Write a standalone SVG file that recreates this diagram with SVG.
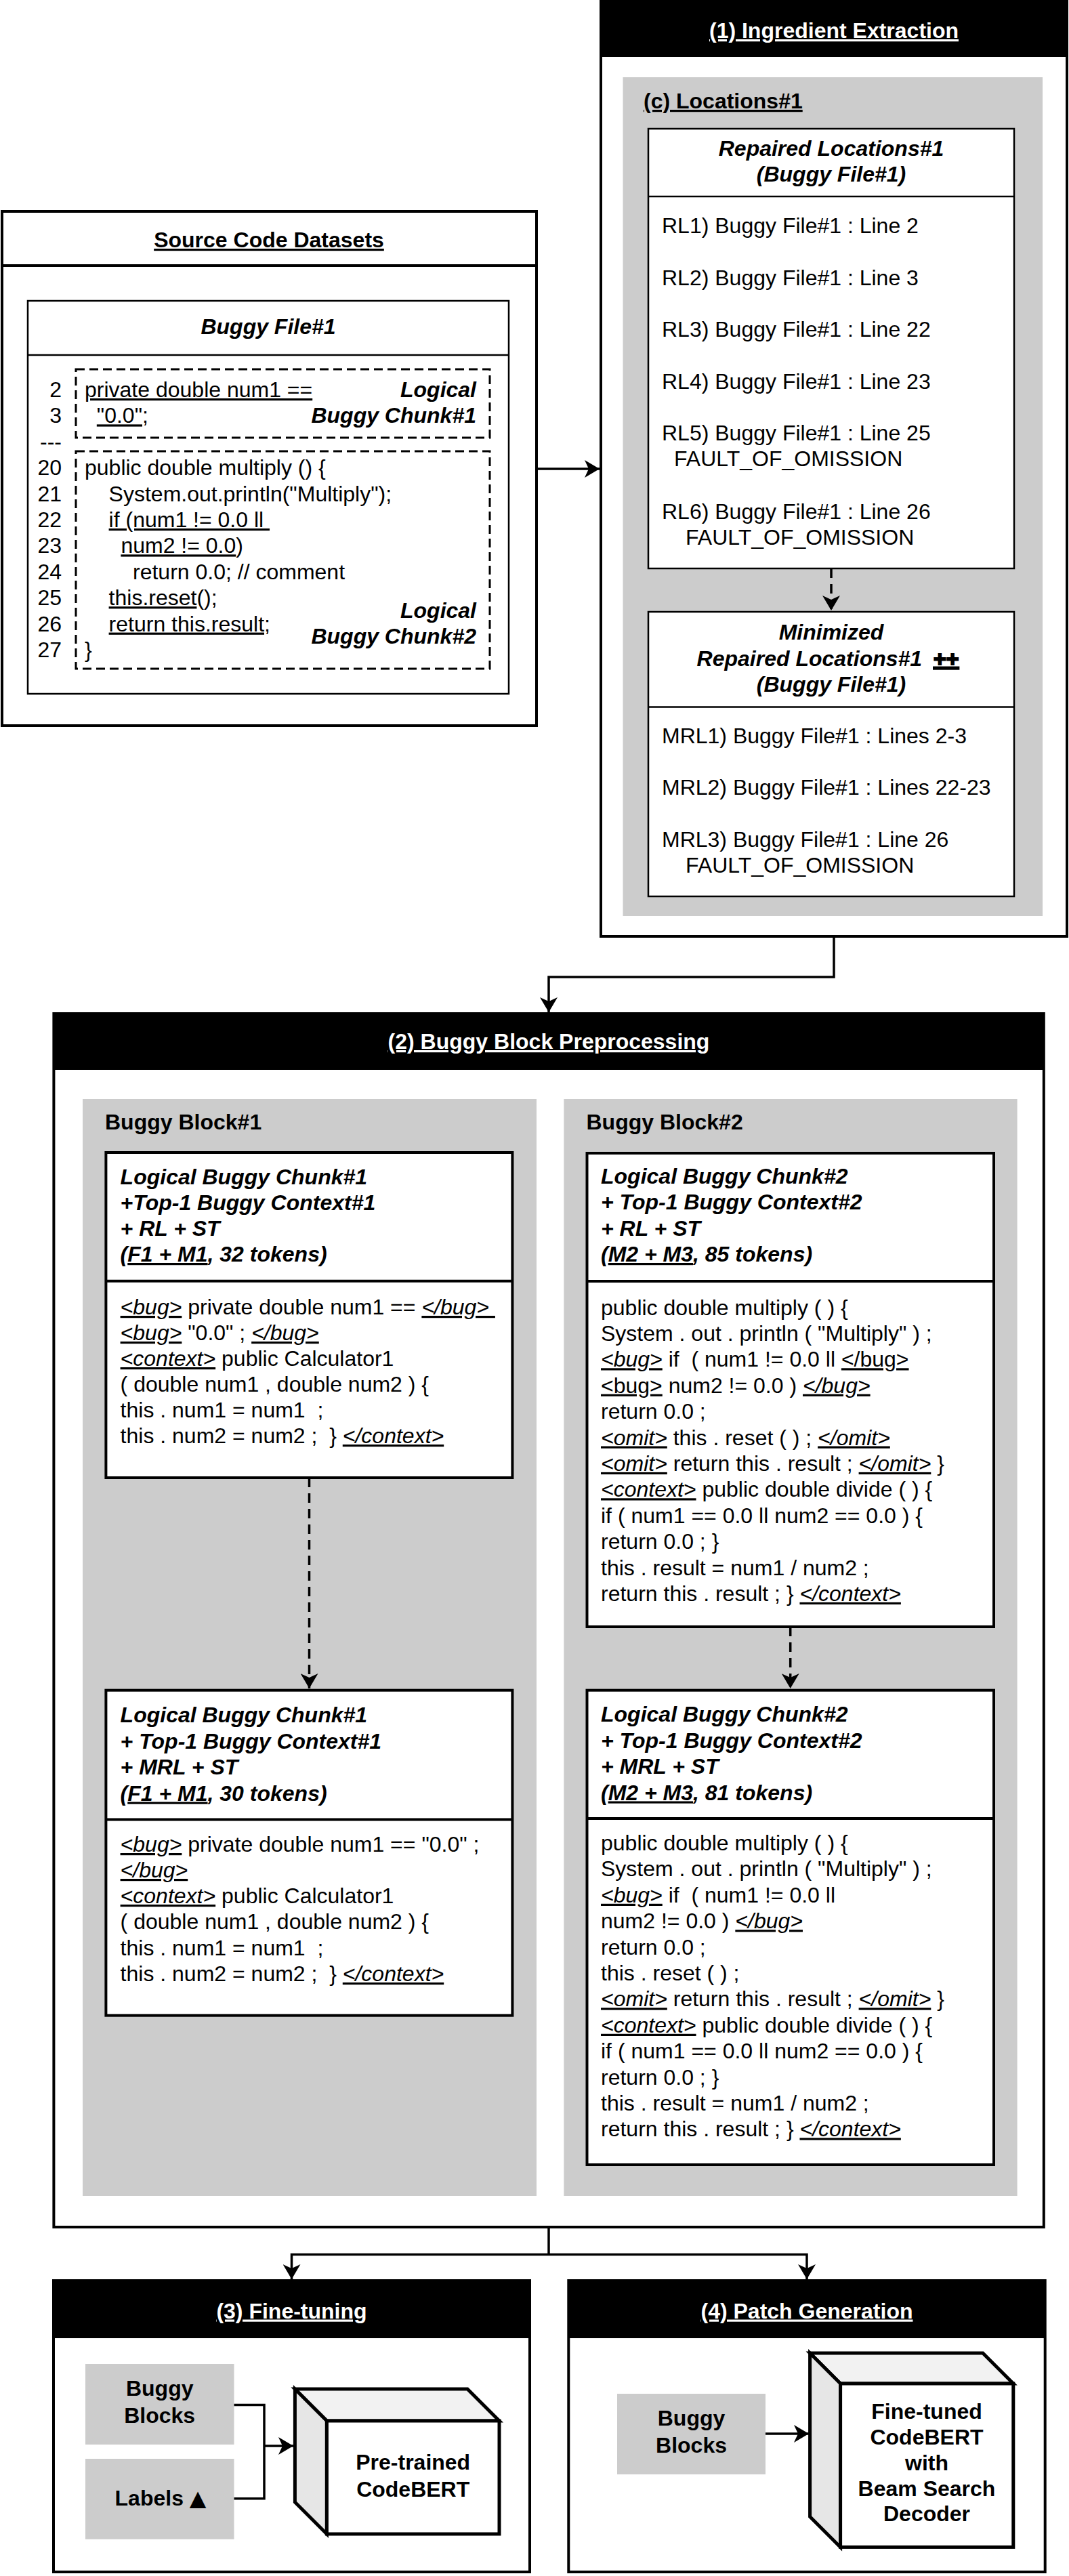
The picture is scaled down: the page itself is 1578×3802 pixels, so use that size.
<svg xmlns="http://www.w3.org/2000/svg" width="1578" height="3802" viewBox="0 0 1578 3802">
<style>
text { font-family: "Liberation Sans", Arial, Helvetica, sans-serif; font-size: 32px; fill: #000; }
.b { font-weight: bold; }
.bi { font-weight: bold; font-style: italic; }
.u { text-decoration: underline; }
.iu { font-style: italic; text-decoration: underline; }
.w { fill: #fff; }
.c { text-anchor: middle; }
.e { text-anchor: end; }
.box { fill: #fff; stroke: #000; stroke-width: 4; }
.thin { fill: #fff; stroke: #000; stroke-width: 2.5; }
.gray { fill: #cccccc; }
.hdr { fill: #000; }
.ln { fill: none; stroke: #000; stroke-width: 2.5; }
.ln4 { fill: none; stroke: #000; stroke-width: 4; }
.dash { fill: none; stroke: #000; stroke-width: 3; stroke-dasharray: 13 7; }
.conn { fill: none; stroke: #000; stroke-width: 3.5; }
.dconn { fill: none; stroke: #000; stroke-width: 3.5; stroke-dasharray: 14 9; }
.cube { stroke: #000; stroke-width: 5; stroke-linejoin: miter; }
.sym { font-family: "DejaVu Sans", "Liberation Sans", sans-serif; }
</style>
<defs>
<marker id="arr" markerWidth="24" markerHeight="26" refX="22" refY="13" orient="auto" markerUnits="userSpaceOnUse">
<path d="M0,0 L22,13 L0,26 L6,13 Z" fill="#000"/>
</marker>
</defs>

<g id="connectors">
<path class="conn" d="M792,692 H885" marker-end="url(#arr)"/>
<path class="conn" d="M1231,1382 V1442 H810 V1494" marker-end="url(#arr)"/>
<path class="conn" d="M810,3287 V3327.6"/>
<path class="conn" d="M810,3327.6 H430.5 V3364" marker-end="url(#arr)"/>
<path class="conn" d="M810,3327.6 H1191 V3364" marker-end="url(#arr)"/>
</g>

<g id="source-code-datasets">
<rect class="box" x="3" y="312" width="789" height="759"/>
<line class="ln4" x1="3" y1="392" x2="792" y2="392"/>
<text class="b u c" x="397" y="365">Source Code Datasets</text>
<rect class="thin" x="41" y="444" width="710" height="580"/>
<line class="ln" x1="41" y1="524" x2="751" y2="524"/>
<text class="bi c" x="396" y="493">Buggy File#1</text>
<rect class="dash" x="112" y="545" width="611" height="101"/>
<rect class="dash" x="112" y="666" width="611" height="321"/>
<text class="e" x="91" y="586">2</text>
<text class="e" x="91" y="624.4">3</text>
<text class="e" x="91" y="662.8">---</text>
<text class="e" x="91" y="701.2">20</text>
<text class="e" x="91" y="739.6">21</text>
<text class="e" x="91" y="778">22</text>
<text class="e" x="91" y="816.4">23</text>
<text class="e" x="91" y="854.8">24</text>
<text class="e" x="91" y="893.2">25</text>
<text class="e" x="91" y="931.6">26</text>
<text class="e" x="91" y="970">27</text>
<text x="125" y="586"><tspan class="u">private double num1 ==</tspan></text>
<text x="142.8" y="624.4"><tspan class="u">"0.0"</tspan>;</text>
<text x="125" y="701.2">public double multiply () {</text>
<text x="160.6" y="739.6">System.out.println("Multiply");</text>
<text x="160.6" y="778" xml:space="preserve"><tspan class="u">if (num1 != 0.0 ll </tspan></text>
<text x="178.4" y="816.4"><tspan class="u">num2 != 0.0</tspan>)</text>
<text x="196" y="854.8">return 0.0; // comment</text>
<text x="160.6" y="893.2"><tspan class="u">this.reset</tspan>();</text>
<text x="160.6" y="931.6"><tspan class="u">return this.result</tspan>;</text>
<text x="125" y="970">}</text>
<text class="bi e" x="703" y="586">Logical</text>
<text class="bi e" x="703" y="624.4">Buggy Chunk#1</text>
<text class="bi e" x="703" y="912">Logical</text>
<text class="bi e" x="703" y="950">Buggy Chunk#2</text>
</g>

<g id="ingredient-extraction">
<rect class="box" x="887" y="2" width="688" height="1380"/>
<rect class="hdr" x="887" y="2" width="688" height="82"/>
<text class="b u c w" x="1231" y="56">(1) Ingredient Extraction</text>
<rect class="gray" x="919.5" y="114" width="619.5" height="1238"/>
<text class="b u" x="950" y="160">(c) Locations#1</text>
</g>

<g id="repaired-locations">
<rect class="thin" x="957" y="190" width="540" height="649"/>
<line class="ln" x1="957" y1="290" x2="1497" y2="290"/>
<text class="bi c" x="1227" y="230">Repaired Locations#1</text>
<text class="bi c" x="1227" y="268">(Buggy File#1)</text>
<text x="977" y="344">RL1) Buggy File#1 : Line 2</text>
<text x="977" y="420.5">RL2) Buggy File#1 : Line 3</text>
<text x="977" y="497">RL3) Buggy File#1 : Line 22</text>
<text x="977" y="573.5">RL4) Buggy File#1 : Line 23</text>
<text x="977" y="650">RL5) Buggy File#1 : Line 25</text>
<text x="995" y="688">FAULT_OF_OMISSION</text>
<text x="977" y="766">RL6) Buggy File#1 : Line 26</text>
<text x="1012" y="804">FAULT_OF_OMISSION</text>
</g>

<g id="rl-to-mrl">
<path class="dconn" d="M1227,839 V901" marker-end="url(#arr)"/>
</g>

<g id="minimized-repaired-locations">
<rect class="thin" x="957" y="903" width="540" height="420"/>
<line class="ln" x1="957" y1="1043.6" x2="1497" y2="1043.6"/>
<text class="bi c" x="1227" y="944">Minimized</text>
<text class="bi" x="1028.6" y="982.5">Repaired Locations#1</text>
<text class="b u" x="1378" y="982.5" style="stroke:#000;stroke-width:2">++</text>
<text class="bi c" x="1227" y="1020.5">(Buggy File#1)</text>
<text x="977" y="1096.6">MRL1) Buggy File#1 : Lines 2-3</text>
<text x="977" y="1172.6">MRL2) Buggy File#1 : Lines 22-23</text>
<text x="977" y="1249.6">MRL3) Buggy File#1 : Line 26</text>
<text x="1012" y="1287.7">FAULT_OF_OMISSION</text>
</g>

<g id="buggy-block-preprocessing">
<rect class="box" x="79.4" y="1496" width="1461.4" height="1791"/>
<rect class="hdr" x="79.4" y="1496" width="1461.4" height="83"/>
<text class="b u c w" x="810" y="1548">(2) Buggy Block Preprocessing</text>
<rect class="gray" x="122" y="1622" width="670" height="1619"/>
<text class="b" x="155" y="1667">Buggy Block#1</text>
<rect class="gray" x="832.4" y="1622" width="669.2" height="1619"/>
<text class="b" x="865.5" y="1667">Buggy Block#2</text>
</g>

<g id="chunk1-rl">
<rect class="box" x="156.4" y="1701" width="600" height="480"/>
<line class="ln4" x1="156.4" y1="1890.7" x2="756.4" y2="1890.7"/>
<text class="bi" x="177.6" y="1748">Logical Buggy Chunk#1</text>
<text class="bi" x="177.6" y="1786">+Top-1 Buggy Context#1</text>
<text class="bi" x="177.6" y="1824">+ RL + ST</text>
<text class="bi" x="177.6" y="1862">(<tspan class="u">F1 + M1</tspan>, 32 tokens)</text>
<text x="177.6" y="1940" xml:space="preserve"><tspan class="iu">&lt;bug&gt;</tspan> private double num1 == <tspan class="iu">&lt;/bug&gt; </tspan></text>
<text x="177.6" y="1978" xml:space="preserve"><tspan class="iu">&lt;bug&gt;</tspan> "0.0" ; <tspan class="iu">&lt;/bug&gt;</tspan></text>
<text x="177.6" y="2016" xml:space="preserve"><tspan class="iu">&lt;context&gt;</tspan> public Calculator1</text>
<text x="177.6" y="2054" xml:space="preserve">( double num1 , double num2 ) {</text>
<text x="177.6" y="2092" xml:space="preserve">this . num1 = num1  ;</text>
<text x="177.6" y="2130" xml:space="preserve">this . num2 = num2 ;  } <tspan class="iu">&lt;/context&gt;</tspan></text>
</g>

<g id="chunk1-to-mrl">
<path class="dconn" d="M456.5,2181 V2492" marker-end="url(#arr)"/>
</g>

<g id="chunk1-mrl">
<rect class="box" x="156.4" y="2494.7" width="600" height="480"/>
<line class="ln4" x1="156.4" y1="2685.4" x2="756.4" y2="2685.4"/>
<text class="bi" x="177.6" y="2542.4">Logical Buggy Chunk#1</text>
<text class="bi" x="177.6" y="2581">+ Top-1 Buggy Context#1</text>
<text class="bi" x="177.6" y="2619.4">+ MRL + ST</text>
<text class="bi" x="177.6" y="2657.5">(<tspan class="u">F1 + M1</tspan>, 30 tokens)</text>
<text x="177.6" y="2733" xml:space="preserve"><tspan class="iu">&lt;bug&gt;</tspan> private double num1 == "0.0" ;</text>
<text x="177.6" y="2771" xml:space="preserve"><tspan class="iu">&lt;/bug&gt;</tspan></text>
<text x="177.6" y="2809" xml:space="preserve"><tspan class="iu">&lt;context&gt;</tspan> public Calculator1</text>
<text x="177.6" y="2847" xml:space="preserve">( double num1 , double num2 ) {</text>
<text x="177.6" y="2885.5" xml:space="preserve">this . num1 = num1  ;</text>
<text x="177.6" y="2924" xml:space="preserve">this . num2 = num2 ;  } <tspan class="iu">&lt;/context&gt;</tspan></text>
</g>

<g id="chunk2-rl">
<rect class="box" x="866.5" y="1702" width="600.5" height="699"/>
<line class="ln4" x1="866.5" y1="1891" x2="1467" y2="1891"/>
<text class="bi" x="887" y="1747">Logical Buggy Chunk#2</text>
<text class="bi" x="887" y="1785">+ Top-1 Buggy Context#2</text>
<text class="bi" x="887" y="1823.5">+ RL + ST</text>
<text class="bi" x="887" y="1862">(<tspan class="u">M2 + M3</tspan>, 85 tokens)</text>
<text x="887" y="1940.5" xml:space="preserve">public double multiply ( ) {</text>
<text x="887" y="1978.9" xml:space="preserve">System . out . println ( "Multiply" ) ;</text>
<text x="887" y="2017.3" xml:space="preserve"><tspan class="iu">&lt;bug&gt;</tspan> if  ( num1 != 0.0 ll <tspan class="u">&lt;/bug&gt;</tspan></text>
<text x="887" y="2055.7" xml:space="preserve"><tspan class="u">&lt;bug&gt;</tspan> num2 != 0.0 ) <tspan class="iu">&lt;/bug&gt;</tspan></text>
<text x="887" y="2094.1" xml:space="preserve">return 0.0 ;</text>
<text x="887" y="2132.5" xml:space="preserve"><tspan class="iu">&lt;omit&gt;</tspan> this . reset ( ) ; <tspan class="iu">&lt;/omit&gt;</tspan></text>
<text x="887" y="2170.9" xml:space="preserve"><tspan class="iu">&lt;omit&gt;</tspan> return this . result ; <tspan class="iu">&lt;/omit&gt;</tspan> }</text>
<text x="887" y="2209.3" xml:space="preserve"><tspan class="iu">&lt;context&gt;</tspan> public double divide ( ) {</text>
<text x="887" y="2247.7" xml:space="preserve">if ( num1 == 0.0 ll num2 == 0.0 ) {</text>
<text x="887" y="2286.1" xml:space="preserve">return 0.0 ; }</text>
<text x="887" y="2324.5" xml:space="preserve">this . result = num1 / num2 ;</text>
<text x="887" y="2362.9" xml:space="preserve">return this . result ; } <tspan class="iu">&lt;/context&gt;</tspan></text>
</g>

<g id="chunk2-to-mrl">
<path class="dconn" d="M1166.7,2401 V2492" marker-end="url(#arr)"/>
</g>

<g id="chunk2-mrl">
<rect class="box" x="866.5" y="2494.7" width="600.5" height="700.3"/>
<line class="ln4" x1="866.5" y1="2684" x2="1467" y2="2684"/>
<text class="bi" x="887" y="2541">Logical Buggy Chunk#2</text>
<text class="bi" x="887" y="2579.5">+ Top-1 Buggy Context#2</text>
<text class="bi" x="887" y="2618">+ MRL + ST</text>
<text class="bi" x="887" y="2656.5">(<tspan class="u">M2 + M3</tspan>, 81 tokens)</text>
<text x="887" y="2731" xml:space="preserve">public double multiply ( ) {</text>
<text x="887" y="2769.4" xml:space="preserve">System . out . println ( "Multiply" ) ;</text>
<text x="887" y="2807.8" xml:space="preserve"><tspan class="iu">&lt;bug&gt;</tspan> if  ( num1 != 0.0 ll</text>
<text x="887" y="2846.2" xml:space="preserve">num2 != 0.0 ) <tspan class="iu">&lt;/bug&gt;</tspan></text>
<text x="887" y="2884.6" xml:space="preserve">return 0.0 ;</text>
<text x="887" y="2923" xml:space="preserve">this . reset ( ) ;</text>
<text x="887" y="2961.4" xml:space="preserve"><tspan class="iu">&lt;omit&gt;</tspan> return this . result ; <tspan class="iu">&lt;/omit&gt;</tspan> }</text>
<text x="887" y="2999.8" xml:space="preserve"><tspan class="iu">&lt;context&gt;</tspan> public double divide ( ) {</text>
<text x="887" y="3038.2" xml:space="preserve">if ( num1 == 0.0 ll num2 == 0.0 ) {</text>
<text x="887" y="3076.6" xml:space="preserve">return 0.0 ; }</text>
<text x="887" y="3115" xml:space="preserve">this . result = num1 / num2 ;</text>
<text x="887" y="3153.4" xml:space="preserve">return this . result ; } <tspan class="iu">&lt;/context&gt;</tspan></text>
</g>

<g id="fine-tuning">
<rect class="box" x="79" y="3366" width="703" height="430"/>
<rect class="hdr" x="79" y="3366" width="703" height="85"/>
<text class="b u c w" x="430.5" y="3421.5">(3) Fine-tuning</text>
</g>

<g id="ft-buggy-blocks">
<rect class="gray" x="126" y="3489" width="219.5" height="119"/>
<text class="b c" x="235.7" y="3536">Buggy</text>
<text class="b c" x="235.7" y="3575.6">Blocks</text>
</g>

<g id="ft-labels">
<rect class="gray" x="126" y="3629" width="219.5" height="118.7"/>
<text class="b c" x="237" y="3697.8">Labels <tspan class="sym">▲</tspan></text>
</g>

<g id="ft-connectors">
<path class="conn" d="M345.5,3549.6 H390 V3687.8 H345.5"/>
<path class="conn" d="M390,3610 H433" marker-end="url(#arr)"/>
</g>

<g id="pretrained-codebert">
<polygon class="cube" fill="#f2f2f2" points="435.4,3526 690,3526 737,3573 482.4,3573"/>
<polygon class="cube" fill="#e6e6e6" points="435.4,3526 482.4,3573 482.4,3740 435.4,3693"/>
<rect class="cube" fill="#fff" x="482.4" y="3573" width="254.6" height="167"/>
<text class="b c" x="609.7" y="3644.5">Pre-trained</text>
<text class="b c" x="609.7" y="3684.5">CodeBERT</text>
</g>

<g id="patch-generation">
<rect class="box" x="839.3" y="3366" width="703.4" height="430"/>
<rect class="hdr" x="839.3" y="3366" width="703.4" height="85"/>
<text class="b u c w" x="1191" y="3421.5">(4) Patch Generation</text>
</g>

<g id="pg-buggy-blocks">
<rect class="gray" x="911" y="3533" width="219" height="119"/>
<text class="b c" x="1020.5" y="3579.6">Buggy</text>
<text class="b c" x="1020.5" y="3619.5">Blocks</text>
</g>

<g id="pg-connector">
<path class="conn" d="M1130,3592 H1194" marker-end="url(#arr)"/>
</g>

<g id="finetuned-codebert">
<polygon class="cube" fill="#f2f2f2" points="1195.6,3473 1450.8,3473 1495.8,3518 1240.6,3518"/>
<polygon class="cube" fill="#e6e6e6" points="1195.6,3473 1240.6,3518 1240.6,3759.4 1195.6,3714.4"/>
<rect class="cube" fill="#fff" x="1240.6" y="3518" width="255.2" height="241.4"/>
<text class="b c" x="1368" y="3569.6">Fine-tuned</text>
<text class="b c" x="1368" y="3608">CodeBERT</text>
<text class="b c" x="1368" y="3645.5">with</text>
<text class="b c" x="1368" y="3683.5">Beam Search</text>
<text class="b c" x="1368" y="3721">Decoder</text>
</g>
</svg>
